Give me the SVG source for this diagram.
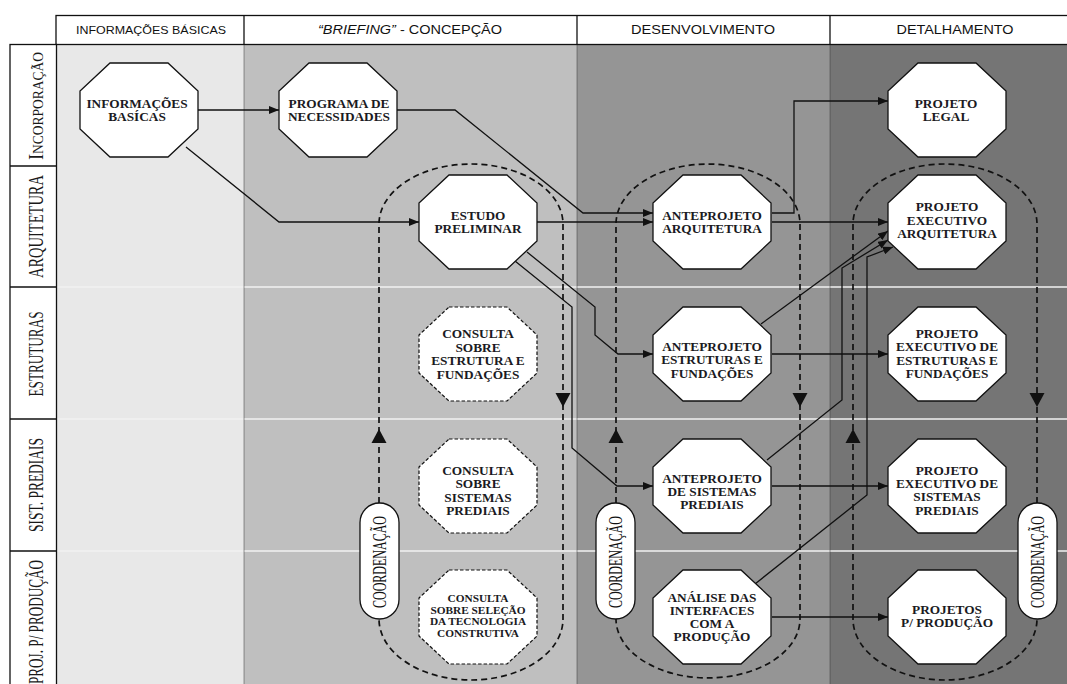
<svg xmlns="http://www.w3.org/2000/svg" width="1067" height="684" viewBox="0 0 1067 684">
<style>
.hdr{font-family:"Liberation Sans",Arial,sans-serif;fill:#111;text-anchor:middle}
.lane{font-family:"Liberation Serif","Times New Roman",serif;fill:#1a1a1a;text-anchor:middle;font-size:21px}
.nt{font-family:"Liberation Serif","Times New Roman",serif;font-size:13.3px;font-weight:bold;fill:#1a1a22;text-anchor:middle}
.nts{font-size:11.3px}
.node{fill:#fff;stroke:#111;stroke-width:1.3}
.cons{fill:#fff;stroke:#111;stroke-width:1.2;stroke-dasharray:3.5 2}
.conn{fill:none;stroke:#111;stroke-width:1.3}
.loop{fill:none;stroke:#111;stroke-width:1.7;stroke-dasharray:6 4}
.pill{fill:#fff;stroke:#111;stroke-width:1.3}
.ah{fill:#111}
.grid{stroke:#f2f2f2;stroke-width:1.5}
.sep{stroke:#3a3a3a;stroke-width:1;stroke-dasharray:1 1}
.frame{fill:#fff;stroke:#111;stroke-width:1.3}
.coord{font-family:"Liberation Serif","Times New Roman",serif;fill:#111;text-anchor:middle;font-size:18px}
</style>
<defs>
<polygon id="oct" points="-29,-47 29,-47 59,-19 59,19 29,47 -29,47 -59,19 -59,-19"/>
<marker id="arr" markerWidth="10" markerHeight="8" refX="10" refY="4" orient="auto" markerUnits="userSpaceOnUse"><path d="M0,0 L10,4 L0,8 z" fill="#111"/></marker>
</defs>

<g id="background">
<rect x="56.5" y="44.5" width="187.5" height="640" fill="#e8e8e8"/>
<rect x="244" y="44.5" width="333" height="640" fill="#bfbfbf"/>
<rect x="577" y="44.5" width="253" height="640" fill="#959595"/>
<rect x="830" y="44.5" width="237" height="640" fill="#757575"/>
<line class="grid" x1="57" y1="287" x2="1067" y2="287"/>
<line class="grid" x1="57" y1="419" x2="1067" y2="419"/>
<line class="grid" x1="57" y1="551" x2="1067" y2="551"/>
<line class="sep" x1="244" y1="44.5" x2="244" y2="684"/>
<line class="sep" x1="577" y1="44.5" x2="577" y2="684"/>
<line class="sep" x1="830" y1="44.5" x2="830" y2="684"/>
</g>

<g id="header">
<rect class="frame" x="56" y="15.5" width="1020" height="29"/>
<line stroke="#111" stroke-width="1.3" x1="244" y1="15.5" x2="244" y2="44.5"/>
<line stroke="#111" stroke-width="1.3" x1="577" y1="15.5" x2="577" y2="44.5"/>
<line stroke="#111" stroke-width="1.3" x1="830" y1="15.5" x2="830" y2="44.5"/>
<text class="hdr" x="151" y="33.5" font-size="11" textLength="150" lengthAdjust="spacingAndGlyphs">INFORMAÇÕES BÁSICAS</text>
<text class="hdr" x="410" y="34" font-size="12.5" textLength="184" lengthAdjust="spacingAndGlyphs"><tspan font-style="italic">“BRIEFING”</tspan> - CONCEPÇÃO</text>
<text class="hdr" x="703" y="34" font-size="13" textLength="144" lengthAdjust="spacingAndGlyphs">DESENVOLVIMENTO</text>
<text class="hdr" x="955" y="34" font-size="13" textLength="117" lengthAdjust="spacingAndGlyphs">DETALHAMENTO</text>
</g>

<g id="lanes">
<rect class="frame" x="10" y="44.5" width="46.5" height="650"/>
<line stroke="#111" stroke-width="1.3" x1="10" y1="166" x2="56.5" y2="166"/>
<line stroke="#111" stroke-width="1.3" x1="10" y1="287" x2="56.5" y2="287"/>
<line stroke="#111" stroke-width="1.3" x1="10" y1="419" x2="56.5" y2="419"/>
<line stroke="#111" stroke-width="1.3" x1="10" y1="551" x2="56.5" y2="551"/>
<text class="lane" transform="translate(43,106) rotate(-90)" textLength="108" lengthAdjust="spacingAndGlyphs"><tspan font-size="21">I</tspan><tspan font-size="15.5">NCORPORAÇÃO</tspan></text>
<text class="lane" transform="translate(43,226.5) rotate(-90)" textLength="103" lengthAdjust="spacingAndGlyphs">ARQUITETURA</text>
<text class="lane" transform="translate(43,354) rotate(-90)" textLength="85" lengthAdjust="spacingAndGlyphs">ESTRUTURAS</text>
<text class="lane" transform="translate(43,485) rotate(-90)" textLength="94" lengthAdjust="spacingAndGlyphs">SIST. PREDIAIS</text>
<text class="lane" transform="translate(43,622) rotate(-90)" textLength="124" lengthAdjust="spacingAndGlyphs">PROJ. P/ PRODUÇÃO</text>
</g>

<g id="coordination-loops">
<path class="loop" d="M379,503 L379,224 A92,60 0 0 1 563,224 L563,619 A92,61 0 0 1 379,619"/>
<path class="loop" d="M616,503 L616,224 A92,60 0 0 1 800,224 L800,619 A92,59 0 0 1 616,619"/>
<path class="loop" d="M1037,503 L1037,224 A92,60 0 0 0 853,224 L853,619 A92,61 0 0 0 1037,619"/>
<polygon class="ah" points="555.5,393 570.5,393 563,407"/>
<polygon class="ah" points="371.5,443 386.5,443 379,429"/>
<polygon class="ah" points="792.5,393 807.5,393 800,407"/>
<polygon class="ah" points="608.5,443 623.5,443 616,429"/>
<polygon class="ah" points="1029.5,393 1044.5,393 1037,407"/>
<polygon class="ah" points="845.5,443 860.5,443 853,429"/>
</g>

<g id="connectors" marker-end="url(#arr)">
<path class="conn" d="M198,110 L279,110"/>
<path class="conn" d="M186,147 L279,222 L419,222"/>
<path class="conn" d="M397,110 L455,110 L583,213 L653,213"/>
<path class="conn" d="M537,222 L653,222"/>
<path class="conn" d="M527,252 L595,307 L595,335 L618,354 L653,354"/>
<path class="conn" d="M515,261 L572,307 L572,448 L617,486 L653,486"/>
<path class="conn" d="M772,213 L794,213 L794,101 L888,101"/>
<path class="conn" d="M772,222 L888,222"/>
<path class="conn" d="M761,324 L888,231"/>
<path class="conn" d="M767,460 L842,400 L842,268 L888,240"/>
<path class="conn" d="M755,584 L867,495 L867,257 L893,247"/>
<path class="conn" d="M772,354 L888,354"/>
<path class="conn" d="M772,486 L888,486"/>
<path class="conn" d="M772,617 L888,617"/>
</g>

<g id="coord-left"><rect class="pill" x="360" y="503" width="39" height="116" rx="19.5"/><text class="coord" transform="translate(386,562) rotate(-90)" textLength="92" lengthAdjust="spacingAndGlyphs">COORDENAÇÃO</text></g>
<g id="coord-mid"><rect class="pill" x="596" y="503" width="39" height="116" rx="19.5"/><text class="coord" transform="translate(622,562) rotate(-90)" textLength="92" lengthAdjust="spacingAndGlyphs">COORDENAÇÃO</text></g>
<g id="coord-right"><rect class="pill" x="1018" y="503" width="39" height="116" rx="19.5"/><text class="coord" transform="translate(1044,562) rotate(-90)" textLength="92" lengthAdjust="spacingAndGlyphs">COORDENAÇÃO</text></g>

<g id="n-info"><use href="#oct" class="node" x="139" y="110"/><text class="nt"><tspan x="137" y="108">INFORMAÇÕES</tspan><tspan x="137" y="121">BASÍCAS</tspan></text></g>
<g id="n-programa"><use href="#oct" class="node" x="338" y="110"/><text class="nt"><tspan x="339" y="108">PROGRAMA DE</tspan><tspan x="339" y="121">NECESSIDADES</tspan></text></g>
<g id="n-legal"><use href="#oct" class="node" x="947" y="110"/><text class="nt"><tspan x="946" y="108">PROJETO</tspan><tspan x="946" y="121">LEGAL</tspan></text></g>
<g id="n-estudo"><use href="#oct" class="node" x="478" y="222"/><text class="nt"><tspan x="478" y="220">ESTUDO</tspan><tspan x="478" y="233">PRELIMINAR</tspan></text></g>
<g id="n-anteproj-arq"><use href="#oct" class="node" x="712" y="222"/><text class="nt"><tspan x="712" y="220">ANTEPROJETO</tspan><tspan x="712" y="233">ARQUITETURA</tspan></text></g>
<g id="n-exec-arq"><use href="#oct" class="node" x="947" y="222"/><text class="nt"><tspan x="947" y="211">PROJETO</tspan><tspan x="947" y="224.5">EXECUTIVO</tspan><tspan x="947" y="238">ARQUITETURA</tspan></text></g>
<g id="n-consulta-estr"><use href="#oct" class="cons" x="478" y="354"/><text class="nt"><tspan x="478" y="338">CONSULTA</tspan><tspan x="478" y="351.5">SOBRE</tspan><tspan x="478" y="365">ESTRUTURA E</tspan><tspan x="478" y="378.5">FUNDAÇÕES</tspan></text></g>
<g id="n-anteproj-estr"><use href="#oct" class="node" x="712" y="354"/><text class="nt"><tspan x="712" y="351">ANTEPROJETO</tspan><tspan x="712" y="364.3">ESTRUTURAS E</tspan><tspan x="712" y="377.6">FUNDAÇÕES</tspan></text></g>
<g id="n-exec-estr"><use href="#oct" class="node" x="947" y="354"/><text class="nt"><tspan x="947" y="337.5">PROJETO</tspan><tspan x="947" y="351">EXECUTIVO DE</tspan><tspan x="947" y="364.5">ESTRUTURAS E</tspan><tspan x="947" y="378">FUNDAÇÕES</tspan></text></g>
<g id="n-consulta-sist"><use href="#oct" class="cons" x="478" y="486"/><text class="nt"><tspan x="478" y="474.5">CONSULTA</tspan><tspan x="478" y="488">SOBRE</tspan><tspan x="478" y="501.5">SISTEMAS</tspan><tspan x="478" y="515">PREDIAIS</tspan></text></g>
<g id="n-anteproj-sist"><use href="#oct" class="node" x="712" y="486"/><text class="nt"><tspan x="712" y="482.5">ANTEPROJETO</tspan><tspan x="712" y="495.5">DE SISTEMAS</tspan><tspan x="712" y="508.5">PREDIAIS</tspan></text></g>
<g id="n-exec-sist"><use href="#oct" class="node" x="947" y="486"/><text class="nt"><tspan x="947" y="475">PROJETO</tspan><tspan x="947" y="488">EXECUTIVO DE</tspan><tspan x="947" y="501">SISTEMAS</tspan><tspan x="947" y="514.5">PREDIAIS</tspan></text></g>
<g id="n-consulta-tec"><use href="#oct" class="cons" x="478" y="617"/><text class="nt nts"><tspan x="478" y="601.5">CONSULTA</tspan><tspan x="478" y="613.5">SOBRE SELEÇÃO</tspan><tspan x="478" y="625">DA TECNOLOGIA</tspan><tspan x="478" y="636.5">CONSTRUTIVA</tspan></text></g>
<g id="n-analise"><use href="#oct" class="node" x="712" y="617"/><text class="nt"><tspan x="712" y="602">ANÁLISE DAS</tspan><tspan x="712" y="615">INTERFACES</tspan><tspan x="712" y="628">COM A</tspan><tspan x="712" y="641">PRODUÇÃO</tspan></text></g>
<g id="n-projetos-prod"><use href="#oct" class="node" x="947" y="617"/><text class="nt"><tspan x="947" y="613.5">PROJETOS</tspan><tspan x="947" y="626.5">P/ PRODUÇÃO</tspan></text></g>
</svg>
